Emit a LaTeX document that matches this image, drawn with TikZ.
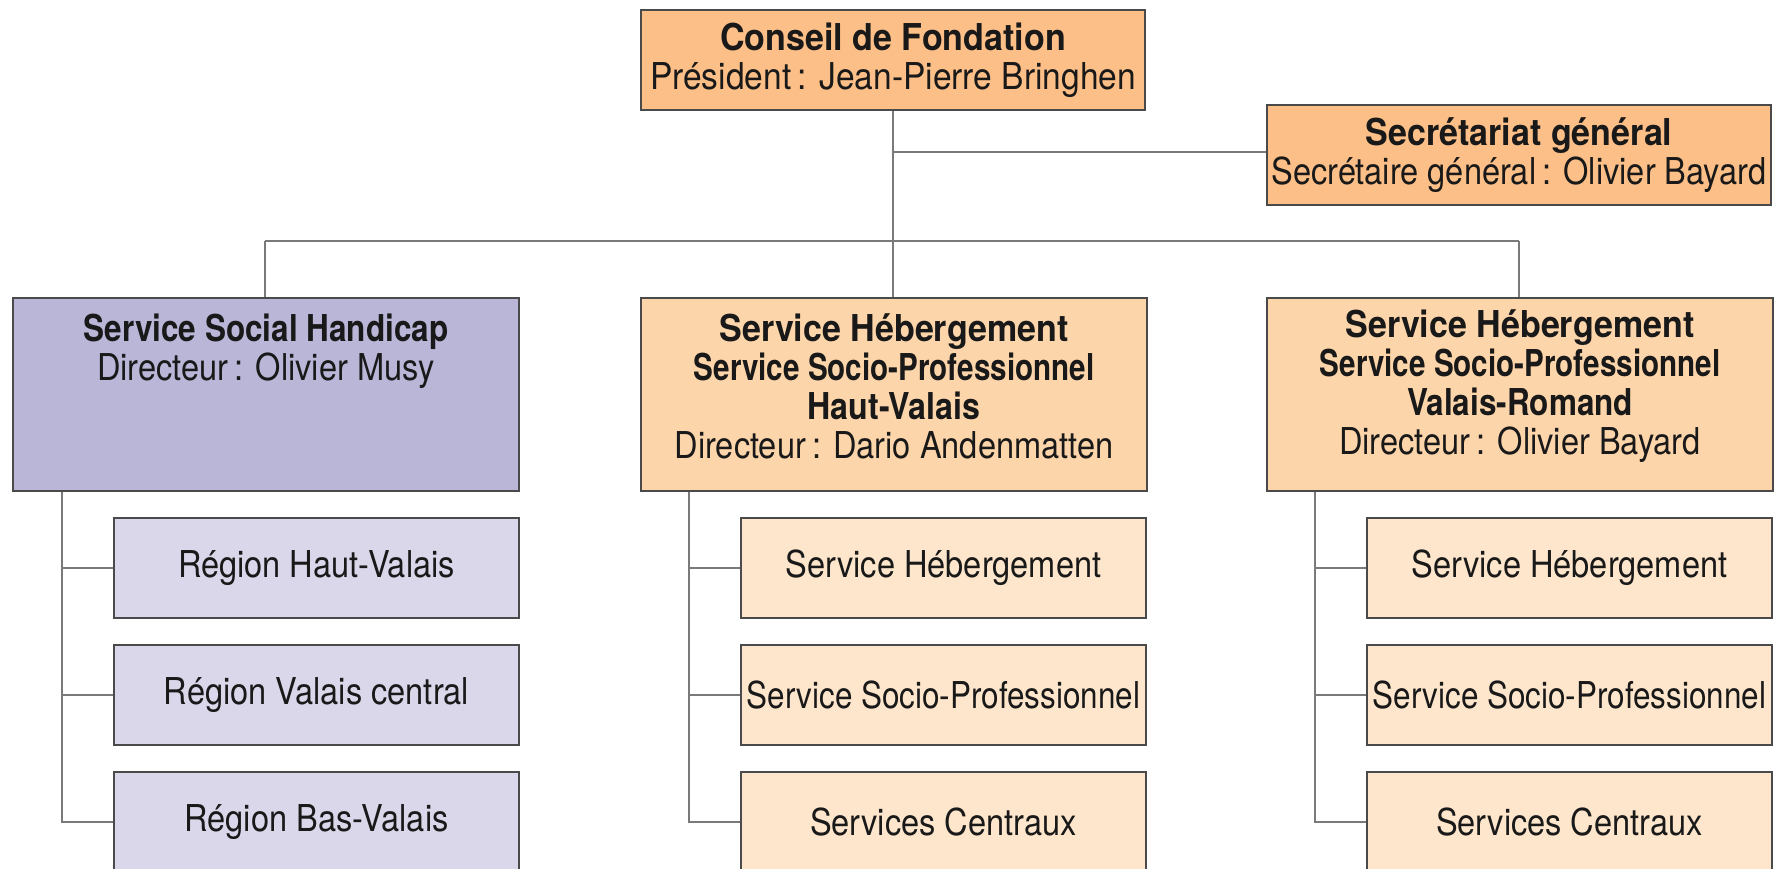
\documentclass[tikz,border=0pt]{standalone}
\usepackage{graphicx}
\usepackage{fontspec}
\setmainfont{TeX Gyre Heros}[FakeStretch=0.88, BoldFeatures={FakeStretch=0.92}]
\newcommand{\hsq}[2]{\scalebox{#1}[1]{#2}}
\definecolor{orDark}{HTML}{FBBF87}
\definecolor{orMid}{HTML}{FDD5AA}
\definecolor{orLight}{HTML}{FEE6CC}
\definecolor{puDark}{HTML}{B9B6D8}
\definecolor{puLight}{HTML}{D9D7E9}
\definecolor{edge}{HTML}{4A4A4A}
\definecolor{wire}{HTML}{7A7A7A}
\begin{document}
\begin{tikzpicture}[x=1pt,y=-1pt,
  boxbase/.style={draw=edge, line width=2pt, anchor=north west, inner sep=0pt, align=center,
    font=\fontsize{37}{39}\selectfont, text=black!90},
  txt/.style={inner sep=0pt, align=center, font=\fontsize{37}{39}\selectfont, text=black!90},
  topbox/.style={boxbase, fill=orDark, minimum width=504pt, minimum height=100pt},
  bigbox/.style={boxbase, minimum width=506pt, minimum height=193pt},
  subbox/.style={boxbase, minimum width=405pt, minimum height=100pt},
  wireline/.style={draw=wire, line width=2pt}]
\useasboundingbox (0,0) rectangle (1775,868);
\clip (0,0) rectangle (1775,868);
\fill[white] (0,0) rectangle (1775,868);

% top level
\node[topbox] (cf) at (640,9) {\textbf{Conseil de Fondation}\\\hsq{1.03}{Président\,: Jean-Pierre Bringhen}};
\node[topbox] (sg) at (1266,104) {\textbf{Secrétariat général}\\Secrétaire général\,: Olivier Bayard};

% second level
\node[bigbox, fill=puDark] (ssh) at (12,297) {};
\node[bigbox, fill=orMid] (shv) at (640,297) {};
\node[bigbox, fill=orMid] (svr) at (1266,297) {};
\node[txt] (ssh-t) at ([yshift=2pt]ssh.center) {\hsq{0.925}{\textbf{Service Social Handicap}}\\Directeur\,: Olivier Musy\\\strut\\\strut};
\node[txt] (shv-t) at ([yshift=8pt]shv.center) {\textbf{Service Hébergement}\\\hsq{0.87}{\textbf{Service Socio-Professionnel}}\\\hsq{0.945}{\textbf{Haut-Valais}}\\Directeur\,: Dario Andenmatten};
\node[txt] (svr-t) at ([yshift=8pt]svr.center) {\textbf{Service Hébergement}\\\hsq{0.87}{\textbf{Service Socio-Professionnel}}\\\hsq{0.925}{\textbf{Valais-Romand}}\\Directeur\,: Olivier Bayard};

% third level
\node[subbox, fill=puLight] (r1) at (113,517) {Région Haut-Valais};
\node[subbox, fill=puLight] (r2) at (113,644) {Région Valais central};
\node[subbox, fill=puLight] (r3) at (113,771) {Région Bas-Valais};

\node[subbox, fill=orLight] (m1) at (740,517) {Service Hébergement};
\node[subbox, fill=orLight] (m2) at (740,644) {\hsq{0.965}{Service Socio-Professionnel}};
\node[subbox, fill=orLight] (m3) at (740,771) {Services Centraux};

\node[subbox, fill=orLight] (v1) at (1366,517) {Service Hébergement};
\node[subbox, fill=orLight] (v2) at (1366,644) {\hsq{0.965}{Service Socio-Professionnel}};
\node[subbox, fill=orLight] (v3) at (1366,771) {Services Centraux};

% junction coordinates
\coordinate (bar) at (893,241);
\coordinate (sgj) at (893,152);
\coordinate (barL) at (265,241);
\coordinate (barR) at (1519,241);

% connectors
\path[wireline] (cf.south -| bar) -- (bar);
\path[wireline] (sgj) -- (sgj -| sg.west);
\path[wireline] (barL) -- (barR);
\path[wireline] (barL) -- (barL |- ssh.north);
\path[wireline] (bar) -- (bar |- shv.north);
\path[wireline] (barR) -- (barR |- svr.north);

\path[wireline] (ssh.south -| 62,0) |- (r3.west);
\path[wireline] (r1.west -| 62,0) -- (r1.west);
\path[wireline] (r2.west -| 62,0) -- (r2.west);

\path[wireline] (shv.south -| 689,0) |- (m3.west);
\path[wireline] (m1.west -| 689,0) -- (m1.west);
\path[wireline] (m2.west -| 689,0) -- (m2.west);

\path[wireline] (svr.south -| 1315,0) |- (v3.west);
\path[wireline] (v1.west -| 1315,0) -- (v1.west);
\path[wireline] (v2.west -| 1315,0) -- (v2.west);
\end{tikzpicture}
\end{document}
